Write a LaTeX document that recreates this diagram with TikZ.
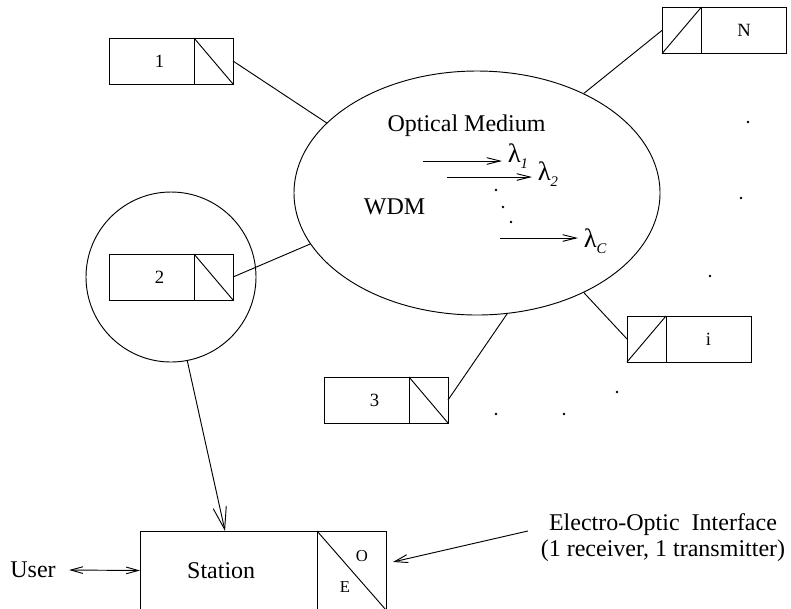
\documentclass[tikz,border=0pt]{standalone}
\usepackage{fontspec}
\setmainfont{Liberation Serif}
\usetikzlibrary{positioning,shapes.geometric,arrows.meta}

\newcommand{\lsub}[1]{\raisebox{-4.5pt}{\fontsize{11}{11}\selectfont\itshape #1}}

\begin{document}
\begin{tikzpicture}[x=0.75pt,y=-0.75pt,line width=0.7pt,
    every node/.style={font=\fontsize{18}{19}\selectfont},
    stbox/.style={draw,rectangle,inner sep=0pt,outer sep=0pt,
      minimum width=63.75pt,minimum height=34.5pt,font=\fontsize{14}{14}\selectfont},
    eobox/.style={draw,rectangle,inner sep=0pt,outer sep=0pt,
      minimum width=29.25pt,minimum height=34.5pt},
    lam/.style={anchor=base west,inner xsep=4pt,inner ysep=0pt,font=\fontsize{20}{20}\selectfont},
    lamarrow/.style={-{Straight Barb[length=10pt,width=5pt]}},
    bigarrow/.style={-{Straight Barb[length=17pt,width=10pt]}},
    dblarrow/.style={{Straight Barb[length=9pt,width=5pt]}-{Straight Barb[length=9pt,width=5pt]}},
    eoarrow/.style={-{Straight Barb[length=10pt,width=6pt]}}]
  \useasboundingbox (0,0) rectangle (791,608);

  \def \LeftStations {
    1/151.5/61,
    2/151.5/277,
    3/366.5/400}
  \def \RightStations {
    N/744/30,
    i/708.5/339}
  \def \Lambdas {
    1/423/502/161/162,
    2/447/532/177/180,
    C/500/578/238/247}

  % optical medium
  \node[draw,ellipse,minimum width=274.5pt,minimum height=183pt,inner sep=0pt] (wdm) at (477,193) {};
  \node (medium) at (466.5,126) {Optical Medium};
  \node (wdmtext) at (394.5,207) {WDM};
  \foreach \id / \xa / \xb / \ya / \yl in \Lambdas {
    \coordinate (w\id) at (\xa,\ya);
    \node[lam] (lam\id) at (\xb,\yl) {λ\lsub{\id}};
    \draw[lamarrow] (w\id) -- (w\id -| lam\id.base west);
  }

  % stations
  \node[draw,circle,minimum size=127.5pt,inner sep=0pt] (magnify) at (171,277) {};
  \foreach \id / \x / \y in \LeftStations {
    \node[stbox] (st\id) at (\x,\y) {\hspace*{12pt}\raisebox{-2pt}{\id}};
    \node[eobox,right=0pt of st\id] (eo\id) {};
    \draw (eo\id.north west) -- (eo\id.south east);
  }
  \foreach \id / \x / \y in \RightStations {
    \node[stbox] (st\id) at (\x,\y) {\id};
    \node[eobox,left=0pt of st\id] (eo\id) {};
    \draw (eo\id.south west) -- (eo\id.north east);
  }
  \draw (eo1.east) -- (wdm.155);
  \draw (eo2.east) -- (wdm.197);
  \draw (eo3.east) -- (wdm.284);
  \draw (wdm.43) -- (eoN.west);
  \draw (wdm.-43) -- (eoi.west);

  \foreach \x / \y in {496/190, 503/207, 511/222, 496/414, 564/414, 617/392, 710/276, 741/198, 748/122}
    \fill (\x,\y) circle (1.1pt);

  % station detail
  \node[draw,rectangle,inner sep=0pt,outer sep=0pt,minimum width=132.75pt,minimum height=59.25pt] (station) at (228.5,570.5) {Station\hspace*{11pt}};
  \node[eobox,minimum width=51.75pt,minimum height=59.25pt,right=0pt of station] (eoS) {};
  \draw (eoS.north west) -- (eoS.south east);
  \node[font=\fontsize{12.5}{12.5}\selectfont] (o) at (362,556) {O};
  \node[font=\fontsize{12.5}{12.5}\selectfont] (e) at (345,587) {E};
  \node (user) at (33,570) {User};
  \node[align=center] (eoif) at (663,537.5) {Electro-Optic\ \ Interface\\(1 receiver, 1 transmitter)};

  \draw[bigarrow] (magnify.-79) -- ([xshift=-2.6pt]station.north);
  \draw[dblarrow] ([xshift=6.4pt]user.east) -- (station.west);
  \draw[eoarrow] ([xshift=-6pt,yshift=4.9pt]eoif.west) -- ([xshift=5.25pt,yshift=6.4pt]eoS.east);
\end{tikzpicture}
\end{document}
